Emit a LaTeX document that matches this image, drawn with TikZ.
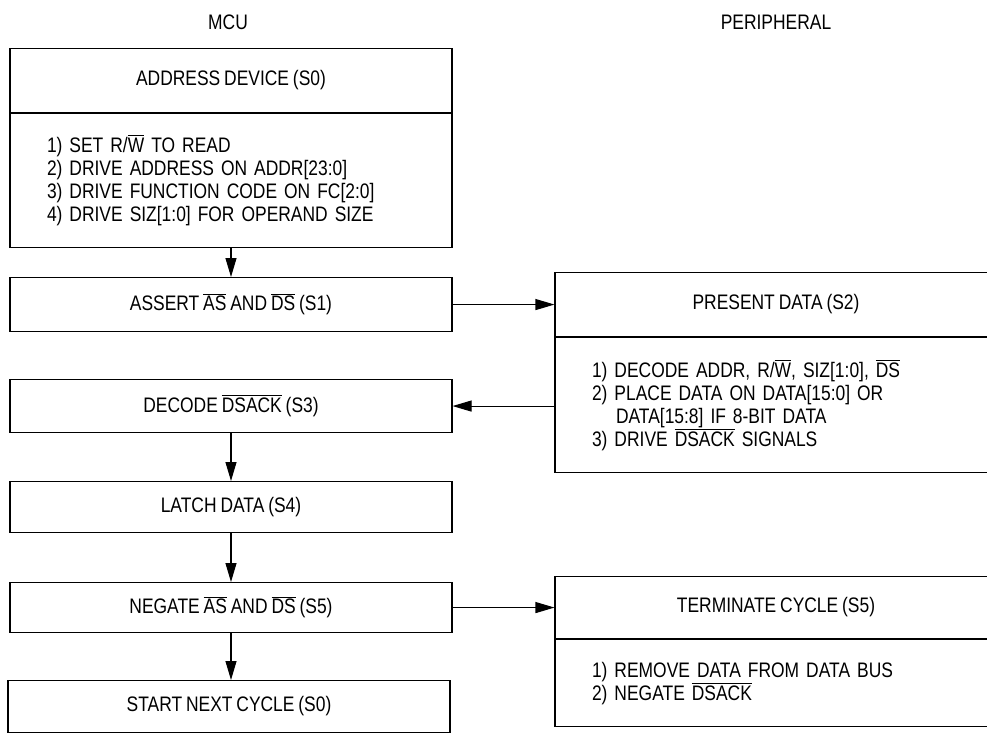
\documentclass[tikz,border=0pt]{standalone}
\usepackage{fontspec}
\setmainfont{Liberation Sans}[FakeStretch=0.83, WordSpace=0.8]
\usetikzlibrary{positioning,arrows.meta,calc}
\newcommand{\ovl}[1]{\leavevmode\vbox{\hrule height 0.9pt\kern 1.6pt\hbox{#1}}}

\begin{document}
\begin{tikzpicture}[
  x=1pt, y=1pt,
  font=\fontsize{21}{23}\selectfont,
  stbox/.style={draw, line width=1.1pt, minimum width=442pt, minimum height=#1,
                inner sep=0pt, anchor=north},
  listbox/.style={draw, line width=1.1pt, minimum height=#1, inner xsep=37pt,
                  inner ysep=0pt, text width=368pt, align=left, anchor=north},
  arr/.style={-{Triangle[length=19pt, width=11pt]}, line width=1.1pt},
  colhead/.style={inner sep=0pt},
]
  \useasboundingbox (0,0) rectangle (987,-733);

  % ---- column titles ---------------------------------------------------------
  \node[colhead] (mcu) at (228,-22) {MCU};
  \node[colhead] (peri) at (776,-22) {PERIPHERAL};

  % ---- MCU side --------------------------------------------------------------
  \node[stbox=64pt] (addr) at (231,-48) {ADDRESS DEVICE (S0)};
  \node[listbox=134pt] (addrb) at (addr.south)
    {1) SET R/\ovl{W} TO READ\\
     2) DRIVE ADDRESS ON ADDR[23:0]\\
     3) DRIVE FUNCTION CODE ON FC[2:0]\\
     4) DRIVE SIZ[1:0] FOR OPERAND SIZE};
  \node[stbox=54pt] (asrt) at (231,-277) {ASSERT \ovl{AS} AND \ovl{DS} (S1)};
  \node[stbox=53pt] (dec) at (231,-379) {DECODE \ovl{DSACK} (S3)};
  \node[stbox=51pt] (latch) at (231,-481) {LATCH DATA (S4)};
  \node[stbox=50pt] (neg) at (231,-582) {NEGATE \ovl{AS} AND \ovl{DS} (S5)};
  \node[stbox=52pt] (start) at (229,-680) {START NEXT CYCLE (S0)};

  % ---- peripheral side -------------------------------------------------------
  \node[stbox=64pt] (pres) at (776,-272) {PRESENT DATA (S2)};
  \node[listbox=135pt] (presb) at (pres.south)
    {1) DECODE ADDR, R/\ovl{W}, SIZ[1:0], \ovl{DS}\\
     2) PLACE DATA ON DATA[15:0] OR\\
     \hspace*{24pt}DATA[15:8] IF 8-BIT DATA\\
     3) DRIVE \ovl{DSACK} SIGNALS};
  \node[stbox=62pt] (term) at (776,-576) {TERMINATE CYCLE (S5)};
  \node[listbox=87pt] (termb) at (term.south)
    {1) REMOVE DATA FROM DATA BUS\\
     2) NEGATE \ovl{DSACK}};

  % ---- flow ------------------------------------------------------------------
  \draw[arr] (addrb) -- (asrt);
  \draw[arr] (asrt) -- (pres);
  \draw[arr] (presb.west |- dec.east) -- (dec.east);
  \draw[arr] (dec) -- (latch);
  \draw[arr] (latch) -- (neg);
  \draw[arr] (neg.south) -- (neg.south |- start.north);
  \draw[arr] (neg) -- (term);
\end{tikzpicture}
\end{document}
